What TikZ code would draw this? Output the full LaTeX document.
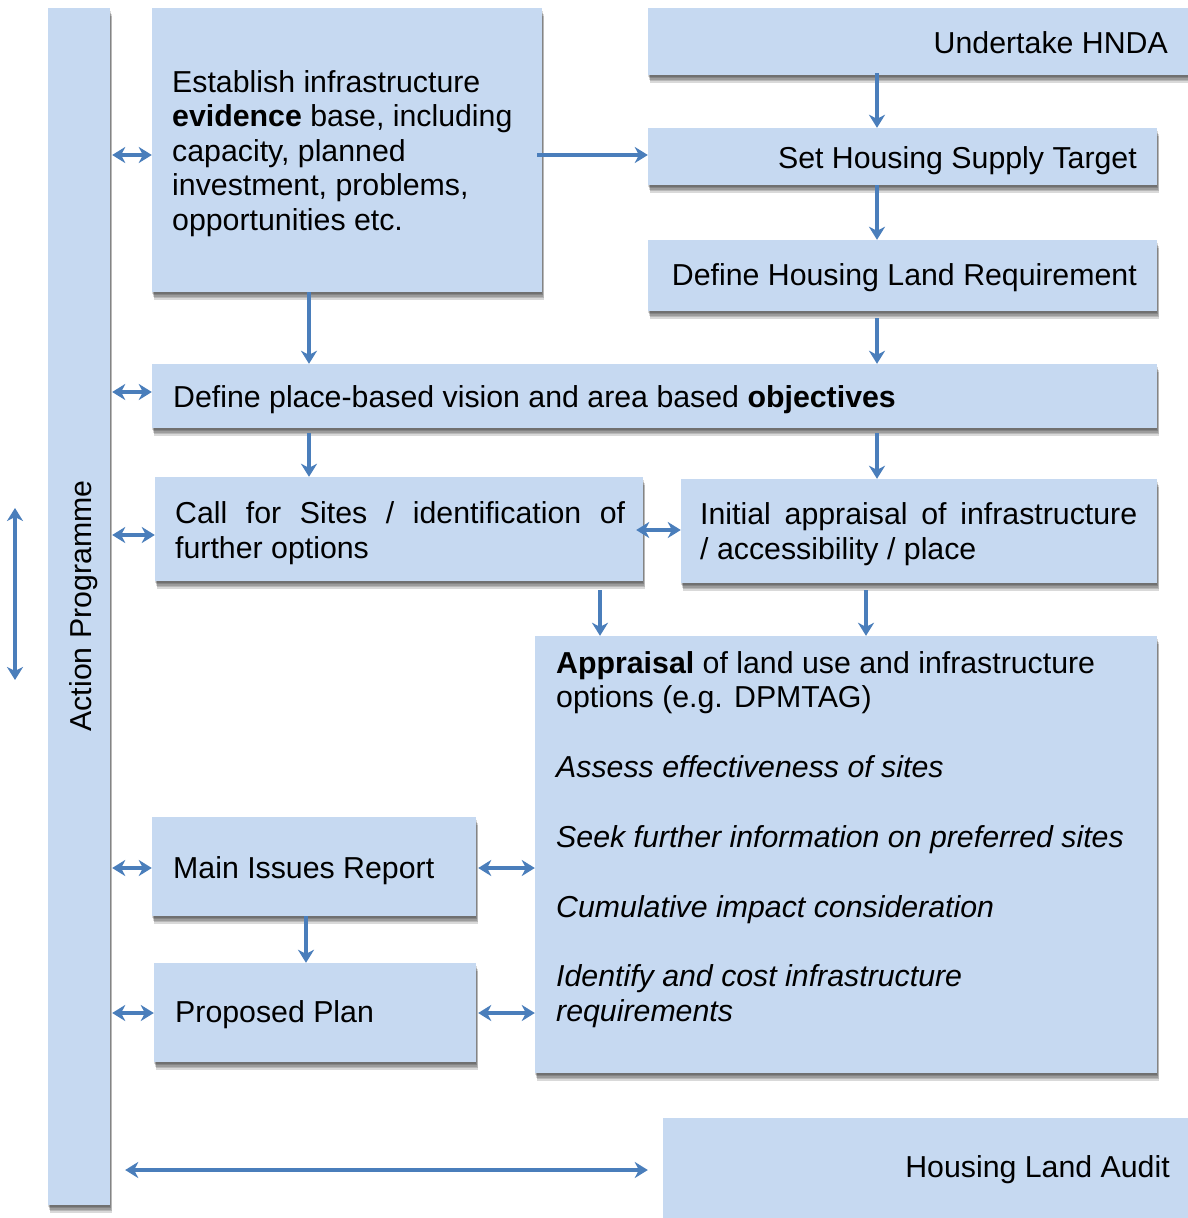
\documentclass[tikz,border=0pt]{standalone}
\usepackage{fontspec}
\setmainfont{Liberation Sans}
\usetikzlibrary{arrows.meta,fit}
\definecolor{boxfill}{HTML}{C6D9F1}
\definecolor{arr}{HTML}{4A7EBB}
\begin{document}
\begin{tikzpicture}[x=1pt,y=-1pt,
  shl/.style={preaction={fill=black,opacity=0.15,transform canvas={xshift=#1*0.3pt,yshift=-#1*1pt}}},
  box/.style={fill=boxfill, draw=none, inner sep=0pt, shl=1.5, shl=3, shl=4.5, shl=6, shl=7.5},
  txt/.style={font=\fontsize{30.3}{35}\selectfont, inner sep=0pt, text=black},
  con/.style={draw=arr, line width=3.8pt, -{Stealth[length=13pt,width=16pt,inset=4pt]}},
  dcon/.style={draw=arr, line width=3.8pt, {Stealth[length=13pt,width=16pt,inset=4pt]}-{Stealth[length=13pt,width=16pt,inset=4pt]}}
]
\useasboundingbox[fill=white] (0,0) rectangle (1188,1218);

% boxes
\node[box, fit={(48,8) (110,1205)}] (bar) {};
\node[box, fit={(152,8) (542,292)}] (ev) {};
\node[box, fit={(648,8) (1194,75)}] (hnda) {};
\node[box, fit={(648,128) (1157,185)}] (hst) {};
\node[box, fit={(648,240) (1157,311)}] (hlr) {};
\node[box, fit={(152,364) (1157,428)}] (vis) {};
\node[box, fit={(155,477) (643,581)}] (cfs) {};
\node[box, fit={(681,479) (1157,583)}] (ini) {};
\node[box, fit={(535,636) (1157,1073)}] (app) {};
\node[box, fit={(152,817) (476,916)}] (mir) {};
\node[box, fit={(154,963) (476,1062)}] (pp) {};
\node[box, fit={(663,1118) (1194,1225)}] (hla) {};

% texts
\node[txt, rotate=90, anchor=base] (bart) at (91,606) {Action Programme};
\node[txt, anchor=base west] (ev1) at (172,92) {Establish infrastructure};
\node[txt, anchor=base west] (ev2) at (172,126.5) {\textbf{evidence} base, including};
\node[txt, anchor=base west] (ev3) at (172,161) {capacity, planned};
\node[txt, anchor=base west] (ev4) at (172,195.5) {investment, problems,};
\node[txt, anchor=base west] (ev5) at (172,230) {opportunities etc.};
\node[txt, anchor=base east] (hndat) at (1168,53) {Undertake HNDA};
\node[txt, anchor=base east] (hstt) at (1137,168) {Set Housing Supply Target};
\node[txt, anchor=base east] (hlrt) at (1137,285) {Define Housing Land Requirement};
\node[txt, anchor=base west] (vist) at (173,407) {Define place-based vision and area based \textbf{objectives}};
\node[txt, anchor=base west] (cfs1) at (175,523) {\makebox[450pt][s]{Call for Sites / identification of}};
\node[txt, anchor=base west] (cfs2) at (175,558) {further options};
\node[txt, anchor=base west] (ini1) at (700,524) {\makebox[437pt][s]{Initial appraisal of infrastructure}};
\node[txt, anchor=base west] (ini2) at (700,559) {/ accessibility / place};
\node[txt, anchor=base west] (app1) at (556,673) {\textbf{Appraisal} of land use and infrastructure};
\node[txt, anchor=base west] (app2) at (556,707) {options (e.g. DPMTAG)};
\node[txt, anchor=base west] (app3) at (556,777) {\textit{Assess effectiveness of sites}};
\node[txt, anchor=base west] (app4) at (556,847) {\textit{Seek further information on preferred sites}};
\node[txt, anchor=base west] (app5) at (556,917) {\textit{Cumulative impact consideration}};
\node[txt, anchor=base west] (app6) at (556,986) {\textit{Identify and cost infrastructure}};
\node[txt, anchor=base west] (app7) at (556,1021) {\textit{requirements}};
\node[txt, anchor=base west] (mirt) at (173,878) {Main Issues Report};
\node[txt, anchor=base west] (ppt) at (175,1022) {Proposed Plan};
\node[txt, anchor=base east] (hlat) at (1170,1177) {Housing Land Audit};

% helper coordinates
\coordinate (xa) at (309,0);
\coordinate (xb) at (877,0);
\coordinate (xc) at (600,0);
\coordinate (xd) at (866,0);
\coordinate (xe) at (306,0);
\coordinate (ya) at (0,155);
\coordinate (yb) at (0,392);
\coordinate (yc) at (0,535);
\coordinate (yd) at (0,530);
\coordinate (ye) at (0,868);
\coordinate (yf) at (0,1013);
\coordinate (yg) at (0,1170);
\coordinate (va) at (15,508);
\coordinate (vb) at (15,680);

% connectors
\draw[dcon, shorten <=2pt] (bar.east |- ya) -- (ev.west |- ya);
\draw[con, shorten <=-5pt] (ev.east |- ya) -- (hst.west |- ya);
\draw[con, shorten <=-2pt] (hnda.south -| xb) -- (hst.north -| xb);
\draw[con] (hst.south -| xb) -- (hlr.north -| xb);
\draw[con, shorten <=7pt] (hlr.south -| xb) -- (vis.north -| xb);
\draw[con] (ev.south -| xa) -- (vis.north -| xa);
\draw[dcon, shorten <=2pt] (bar.east |- yb) -- (vis.west |- yb);
\draw[con, shorten <=5pt] (vis.south -| xa) -- (cfs.north -| xa);
\draw[con, shorten <=5pt] (vis.south -| xb) -- (ini.north -| xb);
\draw[dcon, shorten <=2pt] (bar.east |- yc) -- (cfs.west |- yc);
\draw[dcon] ([xshift=-7pt]cfs.east |- yd) -- (ini.west |- yd);
\draw[con, shorten <=9pt] (cfs.south -| xc) -- (app.north -| xc);
\draw[con, shorten <=7pt] (ini.south -| xd) -- (app.north -| xd);
\draw[dcon, shorten <=2pt] (bar.east |- ye) -- (mir.west |- ye);
\draw[dcon, shorten <=2pt] (mir.east |- ye) -- (app.west |- ye);
\draw[con] (mir.south -| xe) -- (pp.north -| xe);
\draw[dcon, shorten <=2pt] (bar.east |- yf) -- (pp.west |- yf);
\draw[dcon, shorten <=2pt] (pp.east |- yf) -- (app.west |- yf);
\draw[dcon, shorten <=15pt, shorten >=15pt] (bar.east |- yg) -- (hla.west |- yg);
\draw[dcon] (va) -- (vb);
\end{tikzpicture}
\end{document}
